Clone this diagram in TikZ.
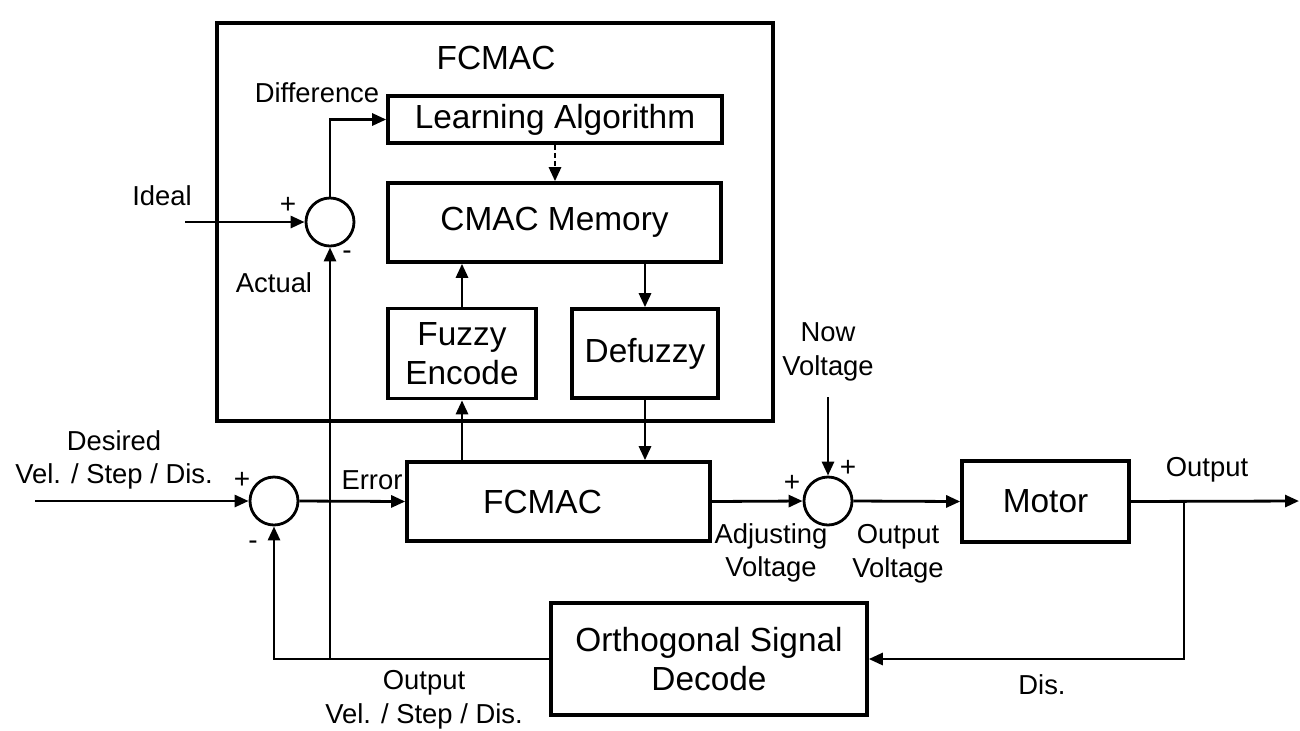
\documentclass[tikz,border=0pt]{standalone}
\usepackage{fontspec}
\setmainfont{Liberation Sans}
\usetikzlibrary{arrows.meta,calc}

\begin{document}
\begin{tikzpicture}[
  x=0.5pt, y=-0.5pt,
  boxfont/.style={font=\fontsize{16.7}{19.5}\selectfont},
  lblfont/.style={font=\fontsize{13.7}{16.8}\selectfont},
  blk/.style={draw, line width=1.8pt, rectangle, inner sep=0pt, align=center, boxfont},
  sumj/.style={draw, line width=1.4pt, circle, minimum size=24pt, inner sep=0pt},
  lbl/.style={inner sep=0pt, align=center, lblfont},
  sgn/.style={inner sep=0pt, font=\fontsize{14}{14}\selectfont},
  wire/.style={line width=1.4pt},
  arr/.style={wire, -{Triangle[length=7pt, width=6pt]}},
  dasharr/.style={arr, dash pattern=on 2.5pt off 1.5pt}
]
\useasboundingbox (0,0) rectangle (1300,730);

% FCMAC internal structure
\node[blk, minimum width=278pt, minimum height=199pt] (outer) at (495,222) {};
\node[inner sep=0pt, boxfont] (title) at (496,58) {FCMAC};
\node[blk, minimum width=167pt, minimum height=23.5pt] (learn) at (555,119.5) {Learning Algorithm};
\node[blk, minimum width=166.5pt, minimum height=39.5pt] (cmac) at (554.5,222.5) {CMAC Memory};
\node[blk, minimum width=74pt, minimum height=45pt] (fuzzy) at (462,353.5) {Fuzzy\\Encode};
\node[blk, minimum width=73pt, minimum height=44.5pt] (defuzzy) at (645,353.5) {Defuzzy};
\node[sumj] (s1) at (330,222) {};

% main loop blocks
\node[blk, minimum width=151.5pt, minimum height=39.5pt,
      label={[boxfont, xshift=-8pt]center:FCMAC}] (fc) at (558.5,501.5) {};
\node[blk, minimum width=83.5pt, minimum height=40.5pt] (motor) at (1045.5,501.5) {Motor};
\node[blk, minimum width=158pt, minimum height=56pt] (ortho) at (709,659) {Orthogonal Signal\\Decode};
\node[sumj] (s2) at (274,501) {};
\node[sumj] (s3) at (828,501) {};

% free ends of the connectors
\coordinate (ideal) at (185,222);
\coordinate (desired) at (35,501);
\coordinate (nowv) at (828,397);
\coordinate (out) at (1299,501);
\coordinate (br) at (1184,501);
\coordinate (fb) at (330,659);

% connectors inside the FCMAC block
\draw[arr] (ideal) -- (s1.west);
\draw[arr] (s1.north) |- (learn.west);
\draw[dasharr] (learn.south) -- (learn.south |- cmac.north);
\draw[arr] (fuzzy.north) -- (fuzzy.north |- cmac.south);
\draw[arr] (defuzzy.north |- cmac.south) -- (defuzzy.north);
\draw[arr] (fuzzy.south |- fc.north) -- (fuzzy.south);
\draw[arr] (defuzzy.south) -- (defuzzy.south |- fc.north);

% forward path
\draw[arr] (desired) -- (s2.west);
\draw[arr] (s2.east) -- (fc.west);
\draw[arr] (fc.east) -- (s3.west);
\draw[arr] (nowv) -- (s3.north);
\draw[arr] (s3.east) -- (motor.west);
\draw[arr] (motor.east) -- (out);

% feedback path
\draw[arr] (br) |- (ortho.east);
\draw[arr] (ortho.west) -| (s2.south);
\draw[arr] (fb) -- (s1.south);

% signal labels
\node[lbl] at (317,93) {Difference};
\node[lbl] at (162,196) {Ideal};
\node[lbl] at (274,283) {Actual};
\node[sgn] at (288,205) {+};
\node[sgn] at (347,255) {-};
\node[lbl] at (114,460) {Desired\\Vel. / Step / Dis.};
\node[sgn] at (242,480) {+};
\node[sgn] at (253,545) {-};
\node[lbl] at (372,480) {Error};
\node[lbl] at (828,352) {Now\\Voltage};
\node[sgn] at (848,468) {+};
\node[sgn] at (792,483) {+};
\node[lbl] at (771,553) {Adjusting\\Voltage};
\node[lbl] at (898,554) {Output\\Voltage};
\node[lbl] at (1207,470) {Output};
\node[lbl] at (1042,685) {Dis.};
\node[lbl] at (424,700) {Output\\Vel. / Step / Dis.};
\end{tikzpicture}
\end{document}
